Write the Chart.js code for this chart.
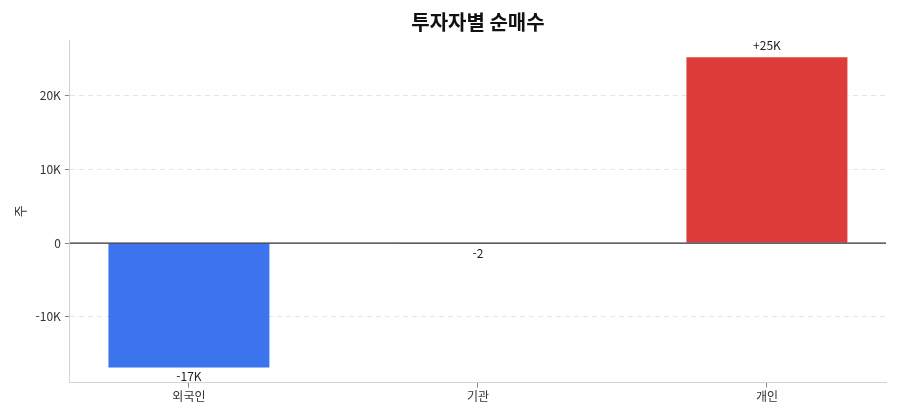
<!DOCTYPE html>
<html lang="ko">
<head>
<meta charset="UTF-8">
<title>투자자별 순매수</title>
<script src="https://cdn.jsdelivr.net/npm/chart.js@4.4.1/dist/chart.umd.min.js"></script>
<style>
    html, body { margin: 0; padding: 0; background: #fff; }
    .wrap { width: 900px; height: 420px; position: relative; }
</style>
</head>
<body>
<div class="wrap"><canvas id="netChart"></canvas></div>
<script>
    // 데이터
    const investors = ['외국인', '기관', '개인'];
    const netBuy = [-16850, -2, 25150];
    const valueLabels = ['-17K', '-2', '+25K'];
    const barColors = ['#3b74ec', '#c0c0c0', '#de3b3b'];
    const chartTitle = '투자자별 순매수';

    const FONT = '"Noto Sans CJK KR", "Noto Sans", sans-serif';

    // 제목(플롯 영역 가운데), 막대 값 표시, 0 기준선
    const labelPlugin = {
        id: 'valueLabels',
        afterDatasetsDraw(chart) {
            const ctx = chart.ctx;
            const y = chart.scales.y;
            const area = chart.chartArea;
            const y0 = y.getPixelForValue(0);
            ctx.save();
            ctx.strokeStyle = '#2b2f3a';
            ctx.lineWidth = 1.2;
            ctx.beginPath();
            ctx.moveTo(area.left, y0);
            ctx.lineTo(area.right, y0);
            ctx.stroke();

            ctx.font = '12px ' + FONT;
            ctx.fillStyle = '#222';
            ctx.textAlign = 'center';
            chart.getDatasetMeta(0).data.forEach((bar, i) => {
                const v = netBuy[i];
                if (v >= 0) {
                    ctx.textBaseline = 'bottom';
                    ctx.fillText(valueLabels[i], bar.x, bar.y - 6);
                } else {
                    ctx.textBaseline = 'top';
                    ctx.fillText(valueLabels[i], bar.x, Math.max(bar.y, y0 + 1) + 3);
                }
            });

            ctx.font = 'bold 20px ' + FONT;
            ctx.fillStyle = '#111';
            ctx.textBaseline = 'middle';
            ctx.fillText(chartTitle, (area.left + area.right) / 2, 22);
            ctx.restore();
        }
    };

    new Chart(document.getElementById('netChart'), {
        type: 'bar',
        data: {
            datasets: [{
                data: netBuy.map((v, i) => ({ x: i, y: v })),
                backgroundColor: barColors,
                categoryPercentage: 1,
                barPercentage: 0.557
            }]
        },
        options: {
            responsive: true,
            maintainAspectRatio: false,
            animation: false,
            layout: { padding: { left: 8, right: 14, top: 40, bottom: 14 } },
            plugins: {
                legend: { display: false },
                tooltip: { enabled: false },
                title: { display: false }
            },
            scales: {
                x: {
                    type: 'linear',
                    offset: false,
                    min: -0.412,
                    max: 2.412,
                    afterBuildTicks(scale) {
                        scale.ticks = investors.map((_, i) => ({ value: i }));
                    },
                    grid: { display: true, offset: false, drawOnChartArea: false, drawTicks: true, tickLength: 5, color: '#888' },
                    border: { color: '#cfd3dc', width: 1 },
                    ticks: {
                        color: '#333',
                        font: { family: FONT, size: 12 },
                        padding: 2,
                        callback: v => investors[v]
                    }
                },
                y: {
                    min: -18900,
                    max: 27500,
                    afterBuildTicks(scale) {
                        scale.ticks = [-10000, 0, 10000, 20000].map(v => ({ value: v }));
                    },
                    grid: {
                        color: ctx => ctx.tick && ctx.tick.value === 0 ? 'rgba(0,0,0,0)' : '#e3e5ea',
                        tickColor: '#888',
                        tickLength: 5
                    },
                    border: { display: true, color: '#cfd3dc', width: 1, dash: [5, 4] },
                    ticks: {
                        color: '#333',
                        font: { family: FONT, size: 12 },
                        padding: 4,
                        callback: v => v === 0 ? '0' : (v / 1000) + 'K'
                    },
                    title: {
                        display: true,
                        text: '주',
                        color: '#333',
                        font: { family: FONT, size: 13 }
                    }
                }
            }
        },
        plugins: [labelPlugin]
    });
</script>
</body>
</html>
